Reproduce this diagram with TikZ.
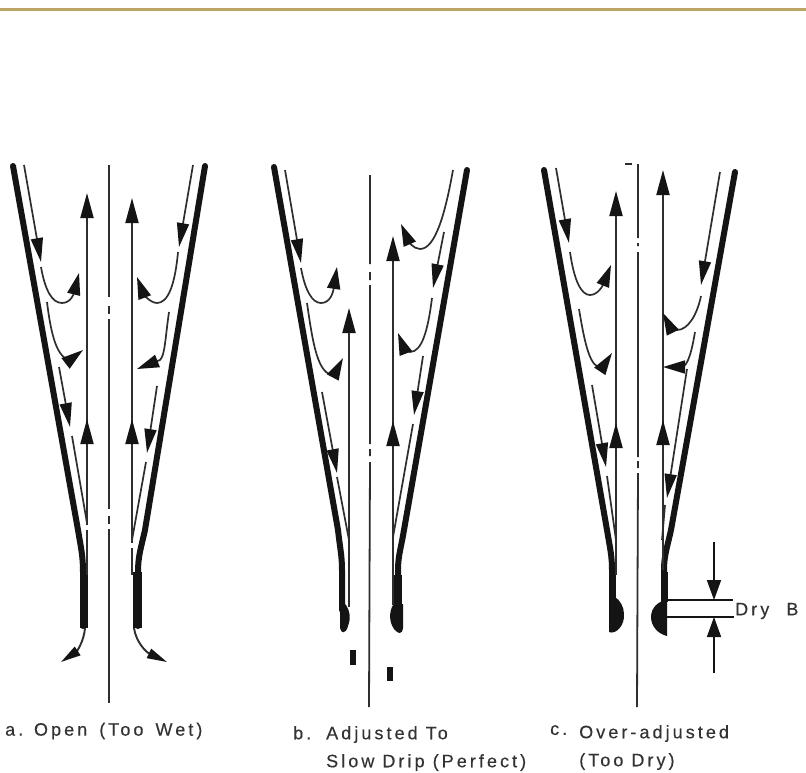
\documentclass[tikz,border=0pt]{standalone}
\usepackage{fontspec}
\setmainfont[LetterSpace=17,FakeBold=0.3]{Liberation Sans}
\usetikzlibrary{arrows.meta}
\definecolor{ink}{HTML}{141414}
\definecolor{linegrey}{HTML}{2E2E2E}
\definecolor{txt}{HTML}{333333}
\definecolor{rulecol}{HTML}{BDA566}
\tikzset{
  wall/.style={line width=6pt,ink,line cap=round,line join=round},
  film/.style={line width=1.7pt,linegrey},
  rod/.style={line width=1.9pt,linegrey},
  centre/.style={line width=1.8pt,linegrey},
  uparrow/.style={rod,-{Triangle[length=25pt,width=13pt,color=ink]}},
  dnarrow/.style={film,-{Triangle[length=24pt,width=12pt,color=ink]}},
  hookarrow/.style={film,-{Triangle[length=22pt,width=13pt,color=ink]}},
  blob/.style={fill=ink,draw=none},
  outflow/.style={film,line width=1.9pt,-{Triangle[length=20pt,width=10pt,color=ink]}},
  lab/.style={anchor=west,inner sep=0pt,text=txt,font=\fontsize{18}{28}\selectfont,align=left},
  dimline/.style={line width=1.7pt,ink}
}
\begin{document}
\begin{tikzpicture}[x=1pt,y=-1pt]
\useasboundingbox (0,0) rectangle (806,772);
\fill[white] (0,0) rectangle (806,772);
\draw[rulecol,line width=3pt] (0,9.5) -- (806,9.5);

% ---------- panel a ----------
\draw[wall] (13,166) -- (78,530) .. controls (81,548) and (83,556) .. (83,572) -- (83,626);
\draw[wall] (205,166) -- (145,530) .. controls (141,548) and (138,556) .. (138,572) -- (138,626);
\fill[blob] (80,572) rectangle (88,628);
\fill[blob] (133,572) rectangle (142,628);
\draw[centre] (109,165) -- (109,297) (109,306) -- (109,314) (109,319) -- (109,509) (109,516) -- (109,524) (109,529) -- (109,703);
% rods
\draw[uparrow] (87,525) -- (87,193);
\draw[rod] (87,530) -- (87,575);
\draw[uparrow] (87,445) -- (87,419);
\draw[uparrow] (132,543) -- (132,198);
\draw[rod] (132,548) -- (132,575);
\draw[uparrow] (132,445) -- (132,419);
% film left
\draw[dnarrow] (24,165) -- (41,262);
\draw[hookarrow] (41,267) .. controls (45,290) and (52,303) .. (62,303) .. controls (71,303) and (74,293) .. (79,273);
\draw[hookarrow] (47,302) .. controls (51,335) and (57,358) .. (70,360) -- (83,350);
\draw[dnarrow] (59,367) -- (70,427);
\draw[film] (72,436) -- (87,523);
% film right
\draw[dnarrow] (193,165) -- (179,247);
\draw[hookarrow] (178,252) .. controls (175,285) and (168,303) .. (157,303) .. controls (150,303) and (143,293) .. (137,277);
\draw[hookarrow] (169,312) .. controls (165,340) and (165,355) .. (160,360) -- (137,369);
\draw[dnarrow] (157,386) -- (147,453);
\draw[film] (146,462) -- (132,540);
% outflow
\draw[outflow] (85,628) .. controls (84,642) and (76,652) .. (61,662);
\draw[outflow] (134,628) .. controls (136,642) and (146,652) .. (167,662);

% ---------- panel b ----------
\draw[wall] (274,167) -- (338,530) .. controls (340,548) and (342,556) .. (342,570) -- (342,610);
\draw[wall] (467,170) -- (404,530) .. controls (401,548) and (398,556) .. (398,570) -- (398,610);
\fill[blob] (393,575) rectangle (402,610);
\fill[blob] (340,600) -- (340,628) .. controls (341,634) and (346,634) .. (348,626) .. controls (351,618) and (350,611) .. (346,605) -- cycle;
\fill[blob] (403,604) -- (403,628) .. controls (402,635) and (398,634) .. (394,629) .. controls (389,622) and (389,612) .. (393,605) -- cycle;
\draw[centre] (370,175) -- (370,264) (370,272) -- (370,280) (370,285) -- (370,444) (370,449) -- (370,456) (370,462) -- (369,707);
\draw[uparrow] (349,607) -- (349,308);
\draw[uparrow] (393,605) -- (393,236);
\draw[uparrow] (393,447) -- (393,421);
% film left
\draw[dnarrow] (285,170) -- (301,263);
\draw[hookarrow] (301,268) .. controls (305,290) and (312,303) .. (321,303) .. controls (330,303) and (333,293) .. (337,267);
\draw[hookarrow] (307,303) .. controls (313,345) and (318,375) .. (334,375) -- (343,358);
\draw[dnarrow] (322,392) -- (337,473);
\draw[film] (337,477) -- (349,540);
% film right
\draw[hookarrow] (453,170) .. controls (445,215) and (435,249) .. (420,249) .. controls (413,249) and (408,240) .. (401,224);
\draw[dnarrow] (444,232) -- (433,288);
\draw[hookarrow] (432,298) .. controls (428,330) and (422,352) .. (410,352) .. controls (406,352) and (403,346) .. (398,333);
\draw[dnarrow] (423,356) -- (414,415);
\draw[film] (413,424) -- (393,537);
% drops
\fill[blob] (350,650) rectangle (356,665);
\fill[blob] (387,667) rectangle (393,681);

% ---------- panel c ----------
\draw[wall] (544,170) -- (607,530) .. controls (610,548) and (612,556) .. (612,570) -- (612,600);
\draw[wall] (735,172) -- (671,530) .. controls (667,548) and (664,556) .. (664,570) -- (664,600);
\fill[blob] (609,572) rectangle (616,600);
\fill[blob] (661,572) rectangle (668,602);
\fill[blob] (609,598) -- (609,632) .. controls (616,635) and (625,625) .. (624,614) .. controls (624,607) and (620,600) .. (615,597) -- cycle;
\fill[blob] (667,600) -- (667,636) .. controls (658,634) and (651,626) .. (651,617) .. controls (651,608) and (658,601) .. (667,600) -- cycle;
\draw[centre] (625,164) -- (632,164);
\draw[centre] (638,164) -- (638,238) (638,243) -- (638,246) (638,252) -- (638,457) (638,461) -- (638,468) (638,473) -- (637,707);
\draw[uparrow] (616,575) -- (616,191);
\draw[uparrow] (616,448) -- (616,423);
\draw[uparrow] (663,570) -- (663,170);
\draw[uparrow] (663,445) -- (663,420);
% film left
\draw[dnarrow] (556,168) -- (569,243);
\draw[hookarrow] (570,252) .. controls (574,280) and (581,295) .. (590,295) .. controls (598,295) and (603,285) .. (611,265);
\draw[hookarrow] (579,309) .. controls (585,345) and (590,368) .. (602,368) -- (612,353);
\draw[dnarrow] (592,385) -- (606,467);
\draw[film] (607,476) -- (616,540);
% film right
\draw[dnarrow] (720,172) -- (701,285);
\draw[hookarrow] (701,296) .. controls (697,315) and (688,330) .. (677,330) .. controls (672,330) and (668,323) .. (663,313);
\draw[hookarrow] (695,332) .. controls (692,350) and (688,366) .. (682,367) -- (663,367);
\draw[dnarrow] (687,369) -- (667,498);
\draw[film] (665,505) -- (662,540);
% dimension
\draw[dimline] (667,600) -- (733,600);
\draw[dimline] (667,617) -- (734,617);
\coordinate (dtop) at (714,542);
\coordinate (dbot) at (714,673);
\draw[dimline,-{Triangle[length=20pt,width=14pt]}] (dtop) -- (714,600);
\draw[dimline,-{Triangle[length=20pt,width=14pt]}] (dbot) -- (714,617);

% ---------- labels ----------
\node[lab] (la) at (5,731) {a. Open\hspace{4pt} (Too\hspace{4pt} Wet)};
\node[lab,anchor=north west] (lb1) at (293,726) {b.};
\node[lab,anchor=north west] (lb2) at (326,726) {Adjusted To\\Slow Drip (Perfect)};
\node[lab,anchor=north west] (lc1) at (550,725) {c.};
\node[lab,anchor=north west] (lc2) at (579,725) {Over-adjusted\\(Too Dry)};
\node[lab] (ld) at (735,611) {Dry\hspace{9pt} B};
\end{tikzpicture}
\end{document}
